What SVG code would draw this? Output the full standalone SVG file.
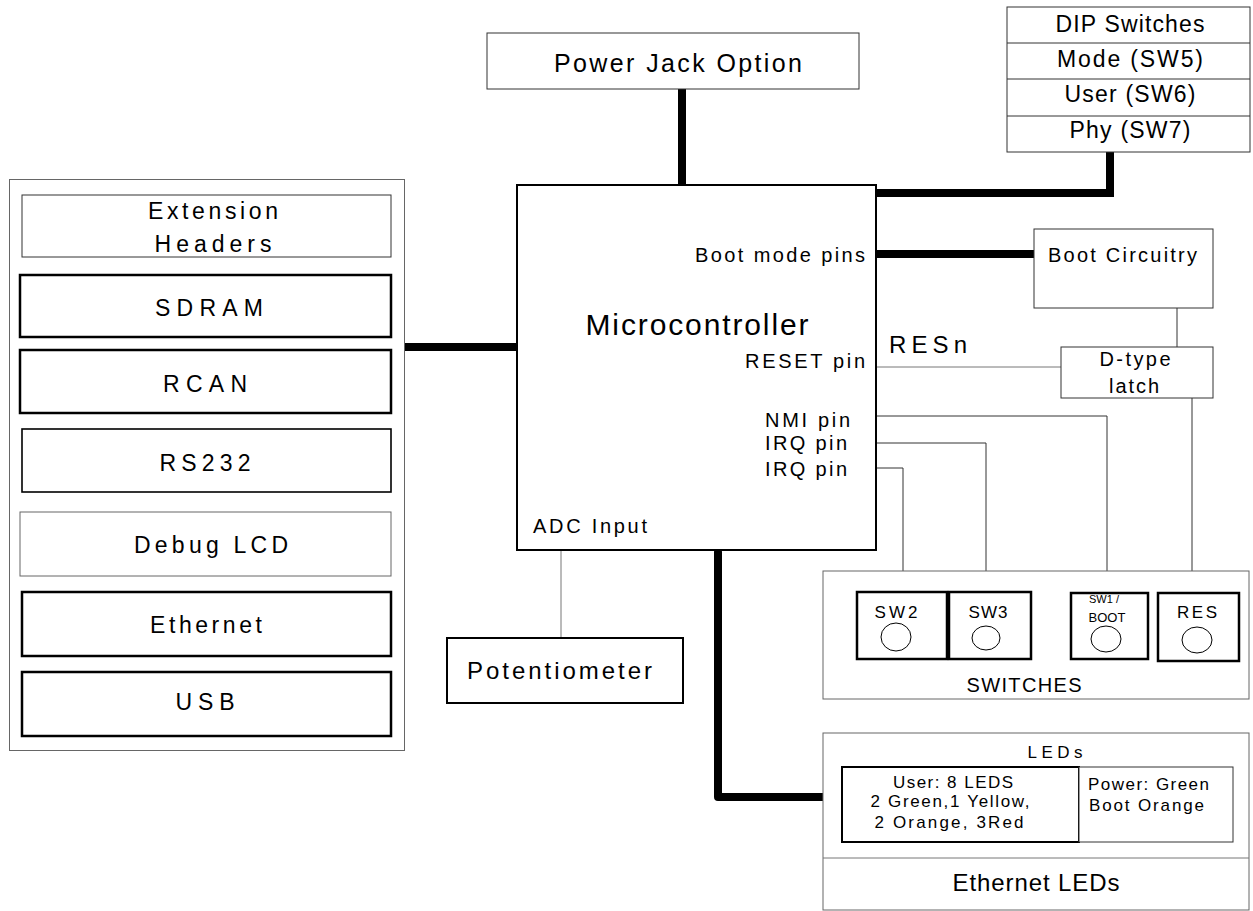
<svg xmlns="http://www.w3.org/2000/svg" width="1253" height="911" viewBox="0 0 1253 911">
<style>
text{font-family:"Liberation Sans",Arial,sans-serif;fill:#000}
.box{fill:#fff;stroke:#333;stroke-width:1}
.thk{fill:#fff;stroke:#000;stroke-width:2.5}
.med{fill:#fff;stroke:#000;stroke-width:1.6}
.gry{fill:#fff;stroke:#666;stroke-width:1}
.bus{fill:none;stroke:#000;stroke-width:8}
.sig{fill:none;stroke:#333;stroke-width:1}
.sigg{fill:none;stroke:#777;stroke-width:1}
.knob{fill:#fff;stroke:#000;stroke-width:1}
.c{text-anchor:middle}
.e{text-anchor:end}
</style>
<rect width="1253" height="911" fill="#fff"/>
<g id="connectors">
<line class="bus" x1="682" y1="89" x2="682" y2="185"/>
<path class="bus" stroke-width="6" d="M876,193 H1110 V152"/>
<line class="bus" stroke-width="9" x1="876" y1="254" x2="1034" y2="254"/>
<line class="bus" x1="404" y1="347" x2="517" y2="347"/>
<line class="sig" x1="1177" y1="308" x2="1177" y2="347"/>
<line class="sigg" x1="876" y1="367" x2="1061" y2="367"/>
<line class="sig" x1="1192" y1="398" x2="1192" y2="593"/>
<path class="sig" d="M876,416 H1107 V593"/>
<path class="sig" d="M876,443 H986 V592"/>
<path class="sig" d="M876,468 H903 V592"/>
<line class="sigg" x1="561" y1="550" x2="561" y2="638"/>
<path class="bus" stroke-linecap="round" stroke-linejoin="round" d="M718,552 V797 H823"/>
</g>
<g id="expansion">
<rect class="gry" x="9.5" y="179.5" width="395" height="571"/>
</g>
<g id="ext-headers"><rect class="box" x="22" y="195" width="369" height="62"/>
<text class="c" x="213" y="219" font-size="23" textLength="130">Extension</text>
<text class="c" x="213" y="252" font-size="23" textLength="117">Headers</text></g>
<g id="sdram"><rect class="thk" x="20" y="275" width="371" height="62"/>
<text class="c" x="209" y="316" font-size="23" textLength="108">SDRAM</text></g>
<g id="rcan"><rect class="thk" x="20" y="350" width="371" height="63"/>
<text class="c" x="205" y="392" font-size="23" textLength="84">RCAN</text></g>
<g id="rs232"><rect class="med" x="22" y="429" width="369" height="63"/>
<text class="c" x="205" y="471" font-size="23" textLength="91">RS232</text></g>
<g id="debug-lcd"><rect class="gry" x="20" y="512" width="371" height="64"/>
<text class="c" x="211" y="553" font-size="23" textLength="154">Debug LCD</text></g>
<g id="ethernet"><rect class="thk" x="22" y="592" width="369" height="64"/>
<text class="c" x="206" y="633" font-size="23" textLength="112">Ethernet</text></g>
<g id="usb"><rect class="thk" x="22" y="672" width="369" height="64"/>
<text class="c" x="205" y="710" font-size="23" textLength="59">USB</text></g>
<g id="power-jack"><rect class="box" x="487" y="33" width="372" height="56"/>
<text class="c" x="678" y="72" font-size="25" textLength="248">Power Jack Option</text></g>
<g id="dip-switches"><rect class="box" x="1007" y="7" width="243" height="145"/>
<line class="sig" x1="1007" y1="43" x2="1250" y2="43"/>
<line class="sig" x1="1007" y1="79" x2="1250" y2="79"/>
<line class="sig" x1="1007" y1="116" x2="1250" y2="116"/>
<text class="c" x="1130" y="32" font-size="23" textLength="149">DIP Switches</text>
<text class="c" x="1130" y="67" font-size="23" textLength="146">Mode (SW5)</text>
<text class="c" x="1130" y="102" font-size="23" textLength="131">User (SW6)</text>
<text class="c" x="1130" y="138" font-size="23" textLength="121">Phy (SW7)</text></g>
<g id="microcontroller"><rect fill="#fff" stroke="#000" stroke-width="2" x="517" y="185" width="359" height="365"/>
<text class="c" x="697" y="335" font-size="30" textLength="223">Microcontroller</text>
<text x="695" y="262" font-size="20" textLength="170">Boot mode pins</text>
<text x="745" y="368" font-size="20" textLength="120">RESET pin</text>
<text x="765" y="427" font-size="20" textLength="85">NMI pin</text>
<text x="765" y="450" font-size="20" textLength="82">IRQ pin</text>
<text x="765" y="476" font-size="20" textLength="82">IRQ pin</text>
<text x="533" y="533" font-size="20" textLength="114">ADC Input</text></g>
<g id="boot-circuitry"><rect class="box" x="1034" y="229" width="179" height="79"/>
<text x="1048" y="262" font-size="20" textLength="149">Boot Circuitry</text></g>
<g id="resn-label"><text x="889" y="353" font-size="24" textLength="78">RESn</text></g>
<g id="d-latch"><rect class="box" x="1061" y="347" width="152" height="51"/>
<text class="c" x="1135" y="366" font-size="20" textLength="71">D-type</text>
<text class="c" x="1134" y="393" font-size="20" textLength="50">latch</text></g>
<g id="switches"><rect class="gry" x="823" y="571" width="426" height="128"/>
<text class="c" x="1024" y="692" font-size="20" textLength="115">SWITCHES</text></g>
<g id="sw2"><rect class="thk" x="857" y="592" width="90" height="67"/>
<text class="c" x="896" y="618" font-size="17" textLength="43">SW2</text>
<ellipse class="knob" cx="896" cy="637" rx="15" ry="14"/></g>
<g id="sw3"><rect class="thk" x="949" y="592" width="82" height="67"/>
<text class="c" x="988" y="618" font-size="17" textLength="39">SW3</text>
<ellipse class="knob" cx="986" cy="638" rx="14" ry="12"/></g>
<g id="sw1-boot"><rect class="thk" x="1071" y="593" width="77" height="66"/>
<text class="c" x="1104" y="603" font-size="11">SW1 /</text>
<text class="c" x="1107" y="622" font-size="13">BOOT</text>
<ellipse class="knob" cx="1106" cy="639" rx="15" ry="13"/></g>
<g id="res"><rect class="thk" x="1158" y="593" width="81" height="68"/>
<text class="c" x="1197" y="618" font-size="17" textLength="40">RES</text>
<ellipse class="knob" cx="1197" cy="640" rx="15" ry="13"/></g>
<g id="leds"><rect class="gry" x="823" y="733" width="426" height="177"/>
<line class="sigg" x1="823" y1="858" x2="1249" y2="858"/>
<text class="c" x="1055" y="758" font-size="17" textLength="55">LEDs</text>
<text class="c" x="1036" y="891" font-size="24" textLength="167">Ethernet LEDs</text></g>
<g id="user-leds"><rect fill="#fff" stroke="#000" stroke-width="2" x="842" y="767" width="237" height="75"/>
<text class="c" x="953" y="788" font-size="17" textLength="120">User: 8 LEDS</text>
<text class="c" x="950" y="807" font-size="17" textLength="159">2 Green,1 Yellow,</text>
<text class="c" x="949" y="828" font-size="17" textLength="149">2 Orange, 3Red</text></g>
<g id="power-leds"><rect class="box" x="1079" y="767" width="154" height="75"/>
<text x="1088" y="790" font-size="17" textLength="121">Power: Green</text>
<text x="1089" y="811" font-size="17" textLength="115">Boot Orange</text></g>
<g id="potentiometer"><rect fill="#fff" stroke="#000" stroke-width="2" x="447" y="638" width="236" height="65"/>
<text x="467" y="679" font-size="24" textLength="185">Potentiometer</text></g>
</svg>
